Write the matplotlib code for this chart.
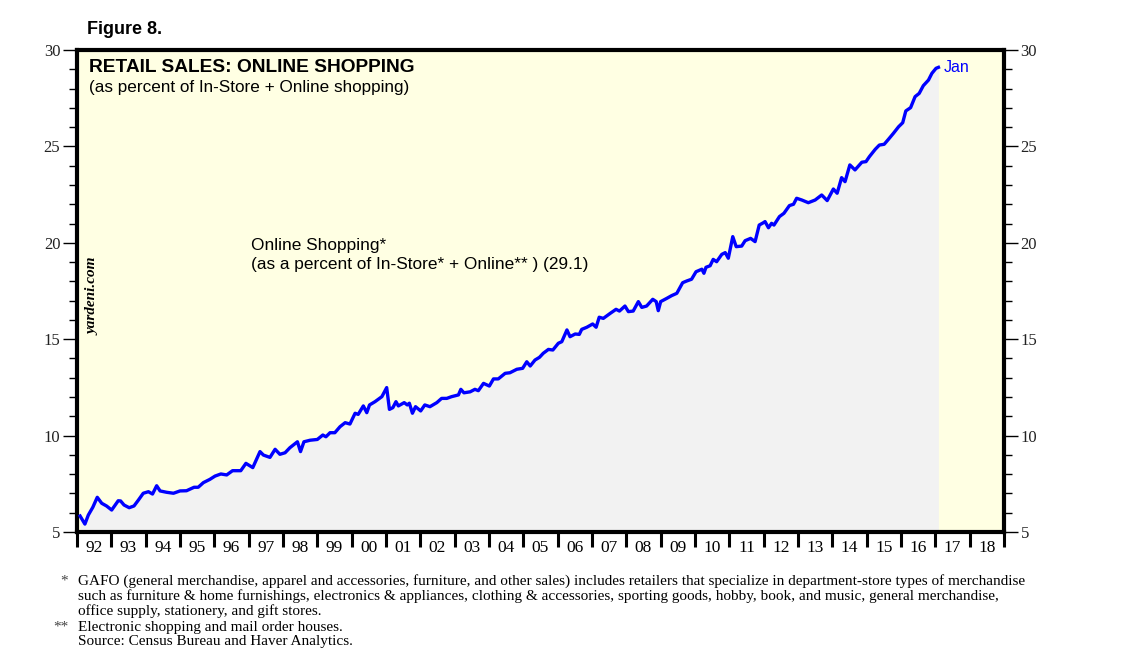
import numpy as np
import matplotlib.pyplot as plt
from matplotlib.ticker import MultipleLocator, FixedLocator, NullFormatter

# =========================
# data (decimal year, percent)
# =========================
years = [
    1992.09, 1992.23, 1992.33, 1992.46, 1992.59, 1992.72, 1992.86, 1993.01,
    1993.20, 1993.27, 1993.37, 1993.52, 1993.66, 1993.79, 1993.93, 1994.08,
    1994.20, 1994.32, 1994.42, 1994.61, 1994.81, 1995.00, 1995.19, 1995.41,
    1995.53, 1995.68, 1995.87, 1996.02, 1996.19, 1996.36, 1996.53, 1996.77,
    1996.92, 1997.12, 1997.33, 1997.43, 1997.62, 1997.77, 1997.91, 1998.06,
    1998.20, 1998.42, 1998.51, 1998.61, 1998.79, 1999.00, 1999.16, 1999.25,
    1999.37, 1999.51, 1999.66, 1999.81, 1999.95, 2000.10, 2000.19, 2000.34,
    2000.44, 2000.52, 2000.68, 2000.88, 2001.02, 2001.10, 2001.20, 2001.29,
    2001.36, 2001.53, 2001.62, 2001.68, 2001.77, 2001.86, 2002.01, 2002.13,
    2002.28, 2002.48, 2002.62, 2002.77, 2002.91, 2003.11, 2003.18, 2003.27,
    2003.45, 2003.59, 2003.69, 2003.84, 2004.01, 2004.13, 2004.27, 2004.47,
    2004.61, 2004.81, 2004.98, 2005.10, 2005.20, 2005.34, 2005.47, 2005.58,
    2005.73, 2005.86, 2006.02, 2006.12, 2006.27, 2006.36, 2006.51, 2006.63,
    2006.70, 2006.85, 2007.02, 2007.12, 2007.21, 2007.33, 2007.53, 2007.70,
    2007.80, 2007.96, 2008.06, 2008.20, 2008.35, 2008.45, 2008.59, 2008.77,
    2008.87, 2008.93, 2009.00, 2009.18, 2009.32, 2009.47, 2009.64, 2009.76,
    2009.90, 2010.03, 2010.20, 2010.26, 2010.32, 2010.44, 2010.53, 2010.63,
    2010.78, 2010.88, 2010.97, 2011.10, 2011.20, 2011.36, 2011.46, 2011.62,
    2011.75, 2011.87, 2011.99, 2012.04, 2012.14, 2012.23, 2012.30, 2012.46,
    2012.59, 2012.75, 2012.87, 2012.96, 2013.11, 2013.30, 2013.50, 2013.69,
    2013.85, 2014.03, 2014.14, 2014.27, 2014.37, 2014.51, 2014.66, 2014.86,
    2014.98, 2015.08, 2015.25, 2015.37, 2015.51, 2015.64, 2015.78, 2015.93,
    2016.05, 2016.14, 2016.28, 2016.41, 2016.53, 2016.65, 2016.80, 2016.90,
    2017.02, 2017.09,
]
online_share = [
    5.83, 5.41, 5.88, 6.28, 6.80, 6.49, 6.35, 6.14,
    6.62, 6.61, 6.40, 6.26, 6.35, 6.66, 7.01, 7.09,
    6.97, 7.40, 7.13, 7.06, 7.01, 7.13, 7.14, 7.32,
    7.32, 7.56, 7.73, 7.90, 8.01, 7.96, 8.18, 8.18,
    8.56, 8.34, 9.17, 8.99, 8.87, 9.29, 9.03, 9.11,
    9.37, 9.68, 9.17, 9.68, 9.76, 9.80, 10.03, 9.94,
    10.15, 10.15, 10.46, 10.67, 10.60, 11.16, 11.10, 11.54,
    11.19, 11.59, 11.76, 12.02, 12.49, 11.36, 11.45, 11.76,
    11.54, 11.71, 11.59, 11.68, 11.16, 11.50, 11.28, 11.59,
    11.50, 11.71, 11.93, 11.93, 12.02, 12.11, 12.40, 12.22,
    12.27, 12.40, 12.33, 12.71, 12.57, 12.94, 12.94, 13.23,
    13.26, 13.44, 13.49, 13.83, 13.61, 13.92, 14.06, 14.27,
    14.47, 14.44, 14.79, 14.87, 15.48, 15.13, 15.27, 15.25,
    15.51, 15.62, 15.79, 15.62, 16.14, 16.08, 16.34, 16.55,
    16.46, 16.72, 16.43, 16.46, 16.95, 16.65, 16.72, 17.07,
    16.95, 16.48, 16.95, 17.12, 17.26, 17.38, 17.93, 18.02,
    18.11, 18.50, 18.63, 18.42, 18.73, 18.81, 19.14, 19.02,
    19.40, 19.49, 19.20, 20.32, 19.80, 19.83, 20.11, 20.23,
    20.06, 20.92, 21.04, 21.10, 20.78, 21.01, 20.92, 21.36,
    21.53, 21.93, 22.00, 22.31, 22.22, 22.08, 22.22, 22.48,
    22.19, 22.79, 22.57, 23.38, 23.17, 24.04, 23.78, 24.18,
    24.21, 24.47, 24.85, 25.07, 25.11, 25.38, 25.68, 26.02,
    26.23, 26.84, 27.01, 27.58, 27.75, 28.15, 28.44, 28.79,
    29.05, 29.10,
]
year_labels = ["92", "93", "94", "95", "96", "97", "98", "99", "00", "01",
               "02", "03", "04", "05", "06", "07", "08", "09", "10", "11",
               "12", "13", "14", "15", "16", "17", "18"]
latest_value = 29.1

footnotes = [
    ("*", "GAFO (general merchandise, apparel and accessories, furniture, and other sales) includes retailers that specialize in department-store types of merchandise"),
    ("", "such as furniture & home furnishings, electronics & appliances, clothing & accessories, sporting goods, hobby, book, and music, general merchandise,"),
    ("", "office supply, stationery, and gift stores."),
    ("**", "Electronic shopping and mail order houses."),
    ("", "Source: Census Bureau and Haver Analytics."),
]

SANS = "Liberation Sans"
SERIF = "Liberation Serif"

fig = plt.figure(figsize=(11.38, 6.57), dpi=100)
ax = fig.add_axes([77 / 1138, 125 / 657, 927 / 1138, 482 / 657])
ax.set_facecolor("#FFFFE3")

x = np.array(years)
y = np.array(online_share)
ax.fill_between(x, 5, y, color="#F2F2F2", linewidth=0, zorder=1)
ax.plot(x, y, color="#0000FF", linewidth=2.4, zorder=3, solid_joinstyle="round")

ax.set_xlim(1992, 2019)
ax.set_ylim(5, 30)

# x axis: ticks at year boundaries, labels centered in between
ax.xaxis.set_major_locator(FixedLocator(np.arange(1992, 2020)))
ax.xaxis.set_major_formatter(NullFormatter())
ax.xaxis.set_minor_locator(FixedLocator(np.arange(1992, 2019) + 0.5))
ax.set_xticklabels(year_labels, minor=True)
ax.tick_params(axis="x", which="major", direction="out", length=11, width=2.2, color="black")
ax.tick_params(axis="x", which="minor", length=0, pad=6, labelsize=12.5)
for lab in ax.get_xticklabels(minor=True):
    lab.set_fontfamily(SERIF)

# y axis on both sides
ax.yaxis.set_major_locator(MultipleLocator(5))
ax.yaxis.set_minor_locator(MultipleLocator(1))
ax.tick_params(axis="y", which="both", left=True, right=True, labelleft=True, labelright=True,
               direction="out", labelsize=12, labelcolor="#222222")
ax.tick_params(axis="y", which="major", length=10, width=1.0, pad=2)
ax.tick_params(axis="y", which="minor", length=6, width=1.0)
for lab in ax.get_yticklabels():
    lab.set_fontfamily(SERIF)

for sp in ax.spines.values():
    sp.set_linewidth(3)
    sp.set_color("black")

# texts
fig.text(87 / 1138, 1 - 30 / 657, "Figure 8.", fontsize=13, fontweight="bold",
         family=SANS, va="center", ha="left")
ax.text(0.013, 0.963, "RETAIL SALES: ONLINE SHOPPING", transform=ax.transAxes,
        fontsize=13.8, fontweight="bold", family=SANS, va="center", ha="left")
ax.text(0.013, 0.922, "(as percent of In-Store + Online shopping)", transform=ax.transAxes,
        fontsize=12.3, family=SANS, va="center", ha="left")
ax.text(0.1877, 0.595, "Online Shopping*", transform=ax.transAxes,
        fontsize=12.4, family=SANS, va="center", ha="left")
ax.text(0.1877, 0.556, f"(as a percent of In-Store* + Online** ) ({latest_value})",
        transform=ax.transAxes, fontsize=12.4, family=SANS, va="center", ha="left")
ax.text(0.0175, 0.49, "yardeni.com", transform=ax.transAxes, rotation=90,
        fontsize=11, family=SERIF, style="italic", fontweight="bold",
        va="center", ha="center")
ax.annotate("Jan", xy=(x[-1], y[-1]), xytext=(4, 0), textcoords="offset points",
            color="#0000FF", fontsize=11.5, family=SANS, va="center", ha="left")

# footnotes
line_y = [581, 596, 611, 627, 642]
for (mark, txt), py in zip(footnotes, line_y):
    if mark:
        fig.text(68 / 1138, 1 - py / 657, mark, fontsize=11, family=SERIF,
                 color="#444444", va="center", ha="right")
    fig.text(78 / 1138, 1 - py / 657, txt, fontsize=11, family=SERIF,
             va="center", ha="left")

fig.savefig("out.png", dpi=100)
